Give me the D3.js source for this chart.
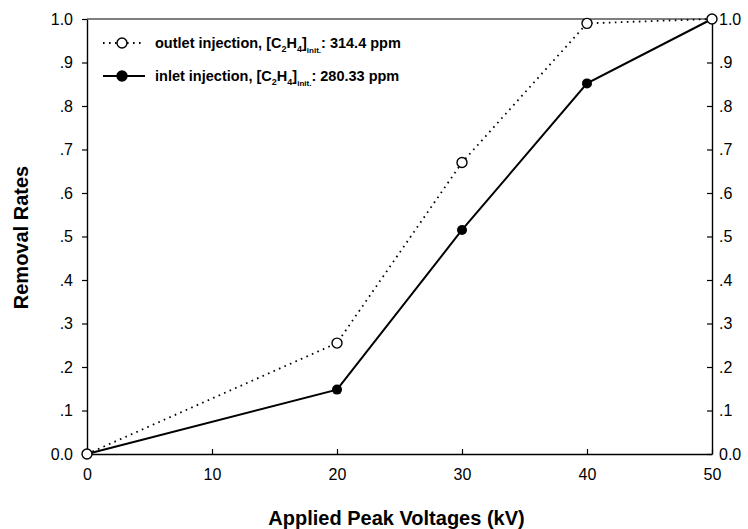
<!DOCTYPE html>
<html>
<head>
<meta charset="utf-8">
<script src="https://cdn.jsdelivr.net/npm/d3@7"></script>
<style>
  body { margin: 0; background: #fff; }
  text { font-family: "Liberation Sans", Arial, sans-serif; fill: #000; }
</style>
</head>
<body>
<script>
// data
var voltages = [0, 20, 30, 40, 50];
var outletRates = [0, 0.255, 0.67, 0.99, 1.0];
var inletRates = [0, 0.148, 0.515, 0.852, 1.0];
var xTicks = [0, 10, 20, 30, 40, 50];
var yTicks = [0, 0.1, 0.2, 0.3, 0.4, 0.5, 0.6, 0.7, 0.8, 0.9, 1.0];

var W = 748, H = 529;
var plotLeft = 87, plotRight = 712, plotTop = 19, plotBottom = 454;

var svg = d3.select("body").append("svg")
  .attr("width", W)
  .attr("height", H);

var x = d3.scaleLinear().domain([0, 50]).range([plotLeft, plotRight]);
var y = d3.scaleLinear().domain([0, 1]).range([plotBottom, plotTop]);

function fmtY(d) {
  if (d === 0) return "0.0";
  if (d === 1) return "1.0";
  return d3.format(".1f")(d).replace(/^0/, "");
}

// top frame line
svg.append("line")
  .attr("x1", plotLeft).attr("x2", plotRight)
  .attr("y1", plotTop).attr("y2", plotTop)
  .attr("stroke", "#000").attr("stroke-width", 1.2);

var gl = svg.append("g").attr("transform", "translate(" + plotLeft + ",0)")
  .call(d3.axisLeft(y).tickValues(yTicks).tickFormat(fmtY).tickSize(5).tickSizeOuter(0));
var gr = svg.append("g").attr("transform", "translate(" + plotRight + ",0)")
  .call(d3.axisRight(y).tickValues(yTicks).tickFormat(fmtY).tickSize(-5).tickSizeOuter(0));
var gb = svg.append("g").attr("transform", "translate(0," + plotBottom + ")")
  .call(d3.axisBottom(x).tickValues(xTicks).tickSize(-5).tickSizeOuter(0));

[gl, gr, gb].forEach(function(g) {
  g.select(".domain").attr("stroke", "#000").attr("stroke-width", 1.4);
  g.selectAll(".tick line").attr("stroke", "#000").attr("stroke-width", 1.2);
  g.selectAll(".tick text")
    .style("font-family", "'Liberation Sans', Arial, sans-serif")
    .style("font-size", "16px")
    .attr("fill", "#000");
});
gl.selectAll(".tick text").attr("x", -14);
gr.selectAll(".tick text").attr("x", 7);
gb.selectAll(".tick text").attr("y", 15);

// axis titles
svg.append("text")
  .attr("x", (plotLeft + plotRight) / 2 - 3)
  .attr("y", 525)
  .attr("text-anchor", "middle")
  .style("font-size", "20px")
  .style("font-weight", "bold")
  .text("Applied Peak Voltages (kV)");

svg.append("text")
  .attr("transform", "translate(28," + (y(0.5) + 1) + ") rotate(-90)")
  .attr("text-anchor", "middle")
  .style("font-size", "20px")
  .style("font-weight", "bold")
  .text("Removal Rates");

// series
var line = d3.line()
  .x(function(d) { return x(d[0]); })
  .y(function(d) { return y(d[1]); });

var outlet = voltages.map(function(v, i) { return [v, outletRates[i]]; });
var inlet = voltages.map(function(v, i) { return [v, inletRates[i]]; });

svg.append("path")
  .datum(outlet)
  .attr("d", line)
  .attr("fill", "none")
  .attr("stroke", "#000")
  .attr("stroke-width", 1.8)
  .attr("stroke-dasharray", "1.6,4.4");

svg.append("path")
  .datum(inlet)
  .attr("d", line)
  .attr("fill", "none")
  .attr("stroke", "#000")
  .attr("stroke-width", 2);

svg.selectAll(".inletPt")
  .data(inlet)
  .enter().append("circle")
  .attr("cx", function(d) { return x(d[0]); })
  .attr("cy", function(d) { return y(d[1]); })
  .attr("r", 5)
  .attr("fill", "#000");

svg.selectAll(".outletPt")
  .data(outlet)
  .enter().append("circle")
  .attr("cx", function(d) { return x(d[0]); })
  .attr("cy", function(d) { return y(d[1]); })
  .attr("r", 5)
  .attr("fill", "#fff")
  .attr("stroke", "#000")
  .attr("stroke-width", 1.4);

// legend
var legend = [
  { name: "outlet injection, ", value: "314.4 ppm", dashed: true, y: 43 },
  { name: "inlet injection, ", value: "280.33 ppm", dashed: false, y: 76 }
];

legend.forEach(function(d) {
  svg.append("line")
    .attr("x1", 103).attr("x2", 145)
    .attr("y1", d.y).attr("y2", d.y)
    .attr("stroke", "#000")
    .attr("stroke-width", d.dashed ? 1.8 : 2)
    .attr("stroke-dasharray", d.dashed ? "1.6,4.4" : null);
  svg.append("circle")
    .attr("cx", 122).attr("cy", d.y)
    .attr("r", 5)
    .attr("fill", d.dashed ? "#fff" : "#000")
    .attr("stroke", "#000")
    .attr("stroke-width", 1.4);
  var t = svg.append("text")
    .attr("x", 155).attr("y", d.y + 5)
    .style("font-size", "14.5px")
    .style("font-weight", "bold");
  t.append("tspan").text(d.name + "[C");
  t.append("tspan").attr("dy", 4).style("font-size", "9px").text("2");
  t.append("tspan").attr("dy", -4).text("H");
  t.append("tspan").attr("dy", 4).style("font-size", "9px").text("4");
  t.append("tspan").attr("dy", -4).text("]");
  t.append("tspan").attr("dy", 5).style("font-size", "8px").text("init.");
  t.append("tspan").attr("dy", -5).text(": " + d.value);
});
</script>
</body>
</html>
